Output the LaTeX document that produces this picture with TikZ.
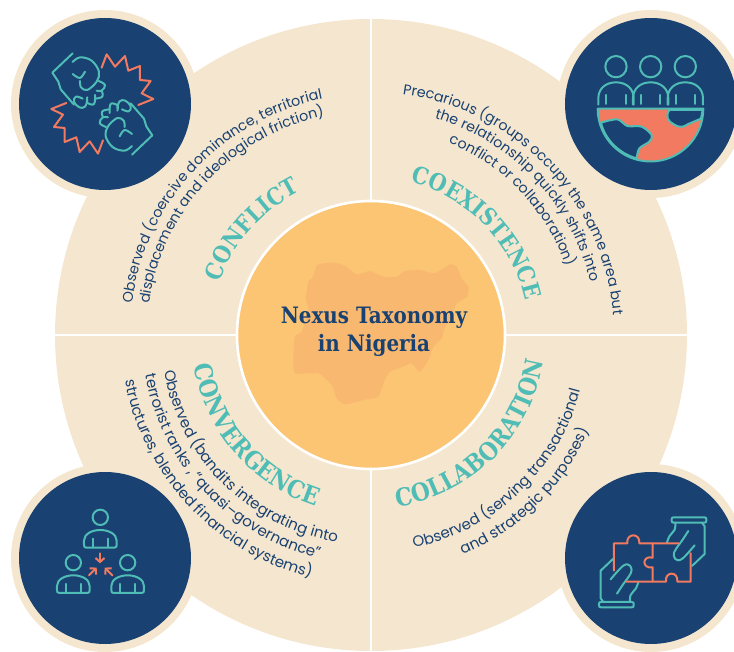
\documentclass[tikz,border=0pt]{standalone}
\usepackage{fontspec}
\usepackage{xcolor}
\usetikzlibrary{decorations.text,arrows.meta,calc}

\setmainfont{Poppins}
\newfontfamily\slabfont{DejaVu Serif}[FakeStretch=0.88]

\definecolor{cream}{HTML}{F5E7CF}
\definecolor{navy}{HTML}{194172}
\definecolor{teal}{HTML}{4FBDB5}
\definecolor{coral}{HTML}{F27A60}
\definecolor{amber}{HTML}{FBC574}
\definecolor{mapfill}{HTML}{F9B86F}

\tikzset{
  teal line/.style={draw=teal, line width=2pt, line cap=round, line join=round},
  coral line/.style={draw=coral, line width=2pt, line cap=round, line join=round},
  icon/.style={shift={#1}, x=0.3333pt, y=-0.3333pt},
  divider/.style={draw=white, line width=2.4pt}
}

\newcommand{\bodyfont}{\fontsize{14.3}{16}\selectfont\color{navy}}
\newcommand{\lowfont}{\fontsize{15}{17}\selectfont\color{navy}}
\newcommand{\headfont}{\slabfont\bfseries\fontsize{23.5}{26}\selectfont\color{teal}}
\newcommand{\bigheadfont}{\slabfont\bfseries\fontsize{24.6}{27}\selectfont\color{teal}}

% text on an arc around the hub: font, radius, start angle, end angle, text
\newcommand{\arcline}[5]{
  \path [decorate, decoration={text along path, text align=center, text={|#1|#5}}]
    ($(hub)+(#3:#2)$) arc (#3:#4:#2);
}

\begin{document}
\begin{tikzpicture}[x=1pt, y=1pt]

\path [use as bounding box] (0,0) rectangle (734,651);

\coordinate (hub) at (371,316);

% big disc and the four rings
\fill [cream] (hub) circle (316);
\foreach \x/\y in {105/547, 651/547, 105/93, 651/93}
  \fill [cream] (\x,\y) circle (94);
\foreach \x/\y in {105/547, 651/547, 105/93, 651/93}
  \fill [navy] (\x,\y) circle (86);

% quadrant lines
\draw [divider] (hub) -- ++(0,316);
\draw [divider] (hub) -- ++(0,-316);
\draw [divider] (hub) -- ++(-316,0);
\draw [divider] (hub) -- ++(316,0);

% middle
\fill [amber, draw=white, line width=2.6pt] (hub) circle (134);
\begin{scope}[icon={(230,456)}]
  \fill [mapfill] plot [smooth cycle, tension=0.35] coordinates {
    (262,210) (310,203) (345,212) (380,238) (420,228) (460,245) (500,245) (525,228)
    (570,225) (615,235) (660,208) (680,215) (695,250) (715,275) (712,305) (680,325)
    (665,370) (645,395) (635,430) (610,455) (598,490) (570,530) (545,505) (520,515)
    (480,530) (462,560) (445,605) (400,615) (345,628) (320,610) (305,570) (265,535)
    (195,535) (190,490) (195,425) (215,410) (235,345) (228,310) (235,260) (250,245)};
\end{scope}
\node [align=center, text=navy, font=\slabfont\bfseries\fontsize{22.6}{27.5}\selectfont] (title)
  at (374,319) {Nexus Taxonomy\\in Nigeria};

% headings
\arcline{\headfont}{160}{171.5}{105.5}{CONFLICT}
\arcline{\headfont}{158}{100}{-12}{COEXISTENCE}
\arcline{\bigheadfont}{174}{-104}{14}{COLLABORATION}
\arcline{\bigheadfont}{180}{164}{278}{CONVERGENCE}

% conflict
\arcline{\bodyfont}{241}{190}{84}{Observed (coercive dominance, territorial}
\arcline{\bodyfont}{224}{190}{84}{displacement and ideological friction)}

% coexistence
\arcline{\bodyfont}{243}{97.6}{-10.4}{Precarious (groups occupy the same area but}
\arcline{\bodyfont}{226}{97.6}{-10.4}{the relationship quickly shifts into}
\arcline{\bodyfont}{207}{97.6}{-10.4}{conflict or collaboration)}

% collaboration
\arcline{\lowfont}{217}{-106}{12.6}{Observed (serving transactional}
\arcline{\lowfont}{238}{-105}{14}{and strategic purposes)}

% convergence
\arcline{\lowfont}{210}{170}{280.6}{Observed (bandits integrating into}
\arcline{\lowfont}{229}{170}{277}{terrorist  ranks , “quasi–governance”}
\arcline{\lowfont}{250}{170}{276.6}{structures, blended financial systems)}

% fists
\begin{scope}[icon={(0,651)}]
  \foreach \rot in {0,180} {
    \begin{scope}[rotate around={\rot:(307,312)}]
      \draw [teal line] (218,160) -- (157,218) -- (175,245) -- (182,268) -- (222,314);
      \draw [teal line] plot [smooth, tension=0.6] coordinates {
        (218,186) (240,172) (275,182) (297,215) (290,245) (262,270) (243,262) (240,243)};
      \draw [teal line] plot [smooth, tension=0.6] coordinates {(218,222) (240,234) (255,215)};
      \draw [teal line] plot [smooth, tension=0.7] coordinates {
        (296,243) (315,255) (305,272) (290,272)};
      \draw [teal line] plot [smooth, tension=0.7] coordinates {
        (305,272) (307,290) (285,296)};
      \draw [teal line] plot [smooth, tension=0.7] coordinates {
        (285,285) (282,312) (262,308) (262,292)};
      \draw [teal line] plot [smooth, tension=0.7] coordinates {
        (262,300) (255,320) (238,322) (222,305) (228,290) (248,296)};
      \draw [coral line] (305,203) -- (320,163) -- (345,200) -- (375,168) -- (385,212)
        -- (420,198) -- (420,240) -- (452,243) -- (425,280) -- (460,297) -- (415,315);
    \end{scope}
  }
\end{scope}

% people on the globe
\begin{scope}[icon={(540,651)}]
  \fill [coral] (173,326) -- (490,326) arc (0:180:158.5) -- cycle;
  \path [fill=navy, teal line] plot [smooth, tension=0.5] coordinates {
    (183,368) (232,358) (262,378) (305,380) (335,405) (328,425) (298,445) (290,475)}
    .. controls (240,462) and (195,420) .. (183,368);
  \path [fill=navy, teal line] (388,330) .. controls (375,350) and (385,365) .. (400,372)
    .. controls (420,385) and (430,382) .. (445,372) -- (483,356) -- (488,330) -- cycle;
  \draw [teal line] (173,326) -- (490,326) arc (0:180:158.5) -- cycle;
  \foreach \x in {228,332,436} {
    \draw [teal line] (\x,200) circle [radius=32];
    \draw [teal line] (\x-53,314) -- (\x-53,295) .. controls (\x-53,265) and (\x-30,247) .. (\x,247)
      .. controls (\x+30,247) and (\x+53,265) .. (\x+53,295) -- (\x+53,314);
    \draw [teal line] (\x-29,285) -- (\x-29,312);
    \draw [teal line] (\x+29,285) -- (\x+29,312);
  }
\end{scope}

% three people
\begin{scope}[icon={(0,201)}]
  \foreach \x/\y in {301/202, 220/338, 383/338} {
    \draw [teal line] (\x,\y) circle [radius=23];
    \draw [teal line] (\x-42,\y+91) -- (\x+42,\y+91) .. controls (\x+48,\y+91) and (\x+49,\y+88) .. (\x+49,\y+82)
      -- (\x+49,\y+70) .. controls (\x+49,\y+50) and (\x+25,\y+38) .. (\x,\y+38)
      .. controls (\x-25,\y+38) and (\x-49,\y+50) .. (\x-49,\y+70) -- (\x-49,\y+82)
      .. controls (\x-49,\y+88) and (\x-48,\y+91) .. (\x-42,\y+91);
    \draw [teal line] (\x-23,\y+64) -- (\x-23,\y+90);
    \draw [teal line] (\x+23,\y+64) -- (\x+23,\y+90);
  }
  \draw [coral line, -{Straight Barb[length=4pt,width=9pt]}] (300,310) -- (300,340);
  \draw [coral line, -{Straight Barb[length=4pt,width=9pt]}] (267,376) -- (290,353);
  \draw [coral line, -{Straight Barb[length=4pt,width=9pt]}] (337,376) -- (314,353);
\end{scope}

% puzzle and hands
\begin{scope}[icon={(540,201)}]
  \foreach \rot in {0,180} {
    \begin{scope}[rotate around={\rot:(338,337)}]
      \draw [teal line] (183,456) -- (275,456) .. controls (280,456) and (281,458) .. (281,462)
        -- (281,466) .. controls (281,470) and (280,472) .. (275,472) -- (183,472)
        .. controls (178,472) and (177,470) .. (177,466) -- (177,462) .. controls (177,458) and (178,456) .. (183,456);
      \draw [teal line] (190,456) -- (182,445) -- (182,362) -- (220,326);
      \draw [teal line] plot [smooth, tension=0.6] coordinates {
        (212,388) (250,347) (270,347) (273,368) (248,405) (231,431)};
      \draw [teal line] plot [smooth, tension=0.6] coordinates {
        (270,456) (272,435) (288,415) (295,396)};
    \end{scope}
  }
  \draw [coral line] (222,362) -- (222,280) -- (262,280)
    .. controls (258,248) and (302,248) .. (298,280) -- (415,280);
  \draw [coral line] (338,280) -- (338,323)
    .. controls (305,315) and (305,358) .. (338,352) -- (338,395);
  \draw [coral line] (258,395) -- (378,395)
    .. controls (374,363) and (416,363) .. (412,395) -- (452,395) -- (452,310);
\end{scope}

\end{tikzpicture}
\end{document}
